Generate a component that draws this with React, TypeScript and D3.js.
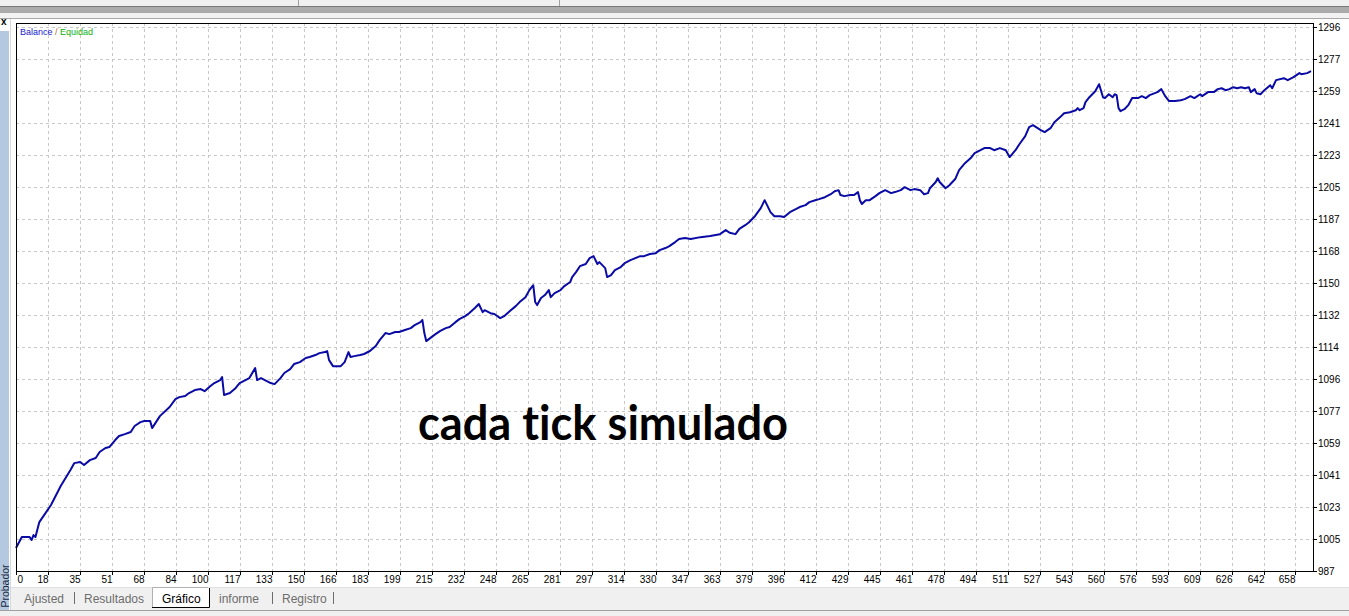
import React, { useEffect } from "react";
import * as d3 from "d3";

const W = 1349;
const H = 616;

// trade number / balance
const trades = [
  0, 3, 7, 8, 9, 10, 12, 18, 23, 28,
  30, 33, 35, 38, 41, 43, 46, 48, 51, 53,
  56, 59, 61, 64, 66, 69, 70, 74, 79, 82,
  84, 87, 89, 92, 95, 97, 100, 102, 105, 106,
  107, 110, 113, 115, 118, 120, 123, 124, 126, 128,
  131, 133, 136, 138, 141, 143, 146, 149, 151, 154,
  156, 159, 160, 161, 163, 167, 169, 171, 172, 174,
  177, 179, 182, 185, 187, 190, 192, 195, 197, 200,
  203, 205, 208, 209, 210, 211, 213, 215, 218, 221,
  223, 226, 228, 231, 233, 236, 238, 240, 241, 244,
  246, 249, 251, 254, 257, 259, 262, 264, 266, 267,
  268, 270, 272, 274, 275, 277, 280, 282, 285, 286,
  288, 290, 293, 295, 297, 299, 300, 303, 304, 306,
  308, 311, 313, 316, 321, 323, 326, 329, 331, 334,
  336, 339, 341, 344, 347, 352, 357, 362, 365, 367,
  370, 372, 375, 377, 380, 383, 385, 388, 390, 393,
  395, 398, 401, 403, 406, 408, 411, 413, 416, 419,
  421, 423, 424, 426, 429, 431, 433, 434, 435, 437,
  439, 442, 444, 447, 450, 452, 455, 457, 460, 462,
  465, 467, 469, 470, 473, 474, 475, 478, 480, 483,
  485, 488, 491, 493, 496, 498, 501, 503, 506, 509,
  511, 514, 516, 519, 521, 523, 527, 529, 532, 534,
  537, 539, 542, 545, 546, 547, 549, 550, 552, 555,
  557, 559, 560, 562, 564, 565, 566, 567, 568, 570,
  572, 574, 577, 579, 581, 583, 587, 589, 591, 593,
  596, 599, 601, 604, 606, 609, 610, 613, 616, 618,
  620, 622, 624, 626, 628, 630, 632, 634, 635, 637,
  638, 640, 642, 645, 646, 648, 652, 654, 657, 660,
  661, 664, 666,
];

const balance = [
  1000.1, 1006.3, 1006.3, 1004.6, 1007.4, 1006.3, 1014.8, 1024.5, 1035.3, 1044.4,
  1048.3, 1048.9, 1047.2, 1050.0, 1051.2, 1054.6, 1056.9, 1057.4, 1061.4, 1063.7,
  1064.8, 1066.0, 1069.4, 1071.6, 1072.2, 1072.2, 1068.2, 1075.0, 1080.2, 1084.7,
  1085.8, 1086.4, 1088.1, 1089.8, 1090.4, 1089.2, 1092.1, 1093.8, 1095.5, 1097.2,
  1087.0, 1088.1, 1091.0, 1093.8, 1095.5, 1096.6, 1102.3, 1095.5, 1096.6, 1095.5,
  1093.8, 1093.2, 1096.6, 1099.5, 1101.7, 1104.6, 1105.7, 1108.0, 1108.6, 1109.7,
  1110.8, 1111.4, 1112.0, 1106.8, 1103.4, 1103.4, 1105.7, 1111.4, 1108.6, 1109.1,
  1109.7, 1110.3, 1112.0, 1114.8, 1118.2, 1122.2, 1121.6, 1122.8, 1122.8, 1123.9,
  1125.0, 1126.7, 1128.4, 1129.6, 1122.2, 1117.6, 1119.3, 1121.0, 1123.3, 1125.0,
  1125.6, 1128.4, 1130.1, 1131.8, 1133.5, 1136.4, 1138.7, 1134.1, 1135.2, 1133.5,
  1133.0, 1130.7, 1131.8, 1134.7, 1137.5, 1139.8, 1142.6, 1146.6, 1149.4, 1139.8,
  1138.1, 1142.1, 1143.8, 1146.6, 1142.6, 1144.9, 1146.6, 1148.9, 1151.2, 1154.0,
  1156.8, 1160.2, 1161.4, 1164.8, 1165.9, 1161.4, 1162.5, 1159.1, 1154.0, 1155.1,
  1158.0, 1159.7, 1161.9, 1163.6, 1165.9, 1165.9, 1167.1, 1167.6, 1169.3, 1170.5,
  1171.6, 1173.9, 1175.6, 1176.2, 1175.6, 1176.7, 1177.3, 1178.4, 1180.7, 1179.2,
  1178.4, 1181.4, 1183.5, 1185.2, 1188.6, 1193.2, 1197.7, 1190.9, 1188.6, 1188.6,
  1188.1, 1190.9, 1192.6, 1193.8, 1194.9, 1196.6, 1197.7, 1198.3, 1199.4, 1201.1,
  1202.8, 1203.4, 1200.6, 1200.0, 1200.6, 1200.6, 1202.3, 1197.7, 1195.5, 1197.7,
  1197.7, 1200.0, 1201.7, 1203.4, 1201.7, 1202.3, 1203.4, 1205.1, 1203.4, 1204.0,
  1203.4, 1201.1, 1201.7, 1204.5, 1208.0, 1210.2, 1208.0, 1204.5, 1206.2, 1209.7,
  1214.8, 1218.7, 1221.6, 1224.4, 1226.1, 1227.3, 1227.3, 1226.1, 1227.3, 1226.1,
  1222.2, 1226.1, 1229.5, 1234.1, 1239.2, 1240.3, 1237.5, 1236.4, 1238.6, 1242.0,
  1244.9, 1247.1, 1247.7, 1248.8, 1250.0, 1248.8, 1250.0, 1253.4, 1256.2, 1259.6,
  1263.6, 1256.2, 1255.7, 1257.9, 1256.2, 1257.9, 1257.4, 1250.0, 1248.3, 1249.4,
  1251.7, 1255.7, 1255.7, 1256.8, 1255.7, 1257.4, 1259.1, 1260.8, 1256.8, 1254.0,
  1254.0, 1254.5, 1255.1, 1256.8, 1255.7, 1257.9, 1256.8, 1259.1, 1259.1, 1260.8,
  1261.3, 1260.2, 1260.8, 1261.9, 1261.3, 1261.9, 1261.3, 1261.9, 1259.1, 1260.8,
  1258.5, 1257.9, 1260.2, 1263.0, 1261.3, 1265.9, 1267.0, 1265.9, 1267.6, 1269.9,
  1269.3, 1269.9, 1271.0,
];

const xTickLabels = [
  0, 18, 35, 51, 68, 84, 100, 117, 133, 150, 166, 183, 199, 215, 232, 248, 265, 281,
  297, 314, 330, 347, 363, 379, 396, 412, 429, 445, 461, 478, 494, 511, 527, 543,
  560, 576, 593, 609, 626, 642, 658,
];
const yTickLabels = [
  987, 1005, 1023, 1041, 1059, 1077, 1096, 1114, 1132, 1150, 1168, 1187, 1205, 1223,
  1241, 1259, 1277, 1296,
];

const tabs = [
  { name: "Ajusted", x: 24 },
  { name: "Resultados", x: 84 },
  { name: "Gráfico", x: 162, active: true },
  { name: "informe", x: 219 },
  { name: "Registro", x: 282 },
];
const tabSeps = [74, 272, 333];

const frame = { l: 16, r: 1313, t: 23, b: 571 };
const font = "Tahoma, 'Liberation Sans', Arial, sans-serif";

export default function App() {
  useEffect(() => {
    document.body.style.margin = "0";
  }, []);

  const xMax = 667;
  const yMin = 987;
  const yMax = 1296.1;
  const x = d3.scaleLinear().domain([0, xMax]).range([frame.l, frame.r]);
  const y = d3.scaleLinear().domain([yMin, yMax]).range([frame.b, 27]);
  const xStep = xTickLabels[xTickLabels.length - 1] / (xTickLabels.length - 1);
  const yStep = (yMax - yMin) / (yTickLabels.length - 1);

  const line = d3
    .line<number>()
    .x((_, i) => x(trades[i]))
    .y((d) => y(d));

  return (
    <svg width={W} height={H} style={{ display: "block" }} fontFamily={font}>
      <rect width={W} height={H} fill="#ffffff" />

      {/* window chrome, top */}
      <rect x={0} y={0} width={W} height={6} fill="#f0f0f0" />
      {[298, 559].map((sx) => (
        <line key={sx} x1={sx + 0.5} x2={sx + 0.5} y1={0} y2={6} stroke="#a0a0a0" />
      ))}
      <rect x={0} y={6} width={W} height={1} fill="#787878" />
      <rect x={0} y={7} width={W} height={6} fill="#ababab" />
      <rect x={0} y={13} width={W} height={5} fill="#f2f2f2" />
      <rect x={0} y={18} width={W} height={1} fill="#a8a8a8" />

      {/* side panel */}
      <text x={1} y={25} fontSize={10} fontWeight="bold" fill="#000">x</text>
      <rect x={0} y={31} width={9} height={580} fill="#b4c8e0" />
      <line x1={10.5} x2={10.5} y1={19} y2={611} stroke="#d8d8d8" />
      <text
        transform="translate(9,586) rotate(-90)"
        textAnchor="middle"
        fontSize={10.5}
        fill="#1a2a44"
      >
        Probador
      </text>

      {/* grid */}
      <g stroke="#c8c8c8" strokeDasharray="3,3" shapeRendering="crispEdges">
        {yTickLabels.slice(1).map((_, i) => (
          <line
            key={"gy" + i}
            x1={frame.l}
            x2={frame.r}
            y1={Math.round(y(yMin + (i + 1) * yStep)) + 0.5}
            y2={Math.round(y(yMin + (i + 1) * yStep)) + 0.5}
          />
        ))}
        {xTickLabels.slice(1).map((_, i) => (
          <line
            key={"gx" + i}
            x1={Math.round(x((i + 1) * xStep)) + 0.5}
            x2={Math.round(x((i + 1) * xStep)) + 0.5}
            y1={frame.t}
            y2={frame.b}
          />
        ))}
      </g>

      {/* balance line */}
      <path d={line(balance) ?? ""} fill="none" stroke="#0a0aa5" strokeWidth={2} strokeLinejoin="round" />

      {/* frame */}
      <rect
        x={frame.l + 0.5}
        y={frame.t + 0.5}
        width={frame.r - frame.l}
        height={frame.b - frame.t}
        fill="none"
        stroke="#000"
        shapeRendering="crispEdges"
      />

      {/* y axis on the right */}
      <g fontSize={10} fill="#000">
        {yTickLabels.map((lab, i) => {
          const yy = Math.round(y(yMin + i * yStep)) + 0.5;
          return (
            <g key={"yt" + i}>
              <line x1={frame.r} x2={frame.r + 4} y1={yy} y2={yy} stroke="#000" />
              <text x={frame.r + 5} y={yy} dy="0.35em">
                {lab}
              </text>
            </g>
          );
        })}
      </g>

      {/* x axis */}
      <g fontSize={10} fill="#000">
        {xTickLabels.map((lab, i) => {
          const xx = Math.round(x(i * xStep)) + 0.5;
          return (
            <g key={"xt" + i}>
              <line x1={xx} x2={xx} y1={frame.b} y2={frame.b + 4} stroke="#000" />
              <text x={i === 0 ? xx + 1 : xx} y={583} textAnchor={i === 0 ? "start" : "end"}>
                {lab}
              </text>
            </g>
          );
        })}
      </g>

      {/* legend */}
      <text x={20} y={35} fontSize={9}>
        <tspan fill="#1818d0">Balance</tspan>
        <tspan fill="#b06a1a"> / </tspan>
        <tspan fill="#10b010">Equidad</tspan>
      </text>

      {/* overlay caption */}
      <text
        x={418}
        y={440}
        fontFamily="Lato, 'Open Sans', sans-serif"
        fontWeight="bold"
        fontSize={47}
        textLength={370}
        lengthAdjust="spacingAndGlyphs"
        fill="#000"
        style={{ fontVariantLigatures: "none", fontFeatureSettings: "'liga' 0, 'clig' 0" }}
      >
        cada tick simulado
      </text>

      {/* tabs strip */}
      <rect x={11} y={587} width={W - 11} height={23} fill="#f0f0f0" />
      <line x1={11} x2={W} y1={587.5} y2={587.5} stroke="#e0e0e0" />
      <line x1={0} x2={W} y1={610.5} y2={610.5} stroke="#a0a0a0" />
      <rect x={0} y={611} width={W} height={5} fill="#f0f0f0" />
      <rect x={152} y={587} width={57} height={20} fill="#ffffff" />
      <polyline points="152.5,607 152.5,587.5 208.5,587.5" fill="none" stroke="#b0b0b0" />
      <polyline points="152,607.5 209.5,607.5 209.5,588" fill="none" stroke="#000" />
      <g fontSize={12}>
        {tabs.map((t) => (
          <text key={t.name} x={t.x} y={603} fill={t.active ? "#000" : "#6d6d6d"}>
            {t.name}
          </text>
        ))}
        {tabSeps.map((sx) => (
          <line key={sx} x1={sx + 0.5} x2={sx + 0.5} y1={592} y2={604} stroke="#6d6d6d" />
        ))}
      </g>
    </svg>
  );
}
